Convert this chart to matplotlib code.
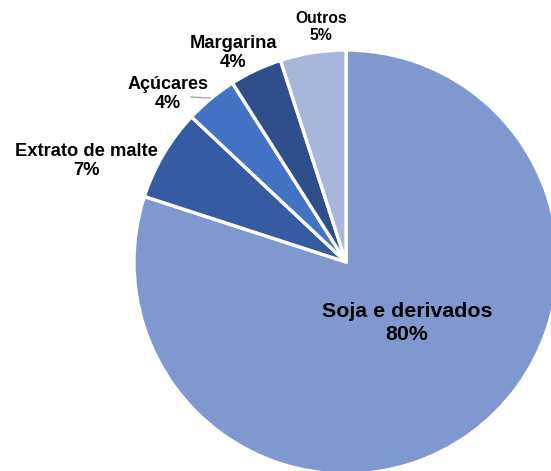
import matplotlib.pyplot as plt

plt.rcParams['font.family'] = ['Liberation Sans', 'DejaVu Sans']

# data
labels = ['Soja e derivados', 'Extrato de malte', 'Açúcares', 'Margarina', 'Outros']
values = [80, 7, 4, 4, 5]
colors = ['#7F99D0', '#355CA3', '#4472C4', '#2E4F8C', '#A8B6DB']

W, H = 551, 471
cx, cy, R = 346, 262, 212  # pie centre / radius in pixels


def px(x, y):
    # pixel position -> data coords (pie radius = 1)
    return (x - cx) / R, (cy - y) / R


fig = plt.figure(figsize=(W / 100, H / 100), dpi=100)
ax = fig.add_axes([0, 0, 1, 1])
ax.pie(values, colors=colors, startangle=90, counterclock=False, radius=1,
       wedgeprops=dict(edgecolor='white', linewidth=2.4))
ax.set_xlim(-cx / R, (W - cx) / R)
ax.set_ylim(-(H - cy) / R, cy / R)
ax.set_aspect('equal')
ax.axis('off')

# label placement (pixels) and font sizes
label_pos = [(407, 323), (86, 161), (168, 94), (233, 53), (321, 27)]
label_size = [15.4, 13.2, 13, 13.2, 11.3]
total = sum(values)
for lab, v, (x, y), fs in zip(labels, values, label_pos, label_size):
    tx, ty = px(x, y)
    ax.text(tx, ty, f'{lab}\n{round(100 * v / total)}%', ha='center', va='center',
            fontsize=fs, fontweight='bold', color='black', linespacing=1.22)

# leader line for Açúcares
x0, y0 = px(191, 97)
x1, y1 = px(210, 98)
ax.plot([x0, x1], [y0, y1], color='#A6A6A6', linewidth=1)

fig.savefig('out.png', dpi=100)
